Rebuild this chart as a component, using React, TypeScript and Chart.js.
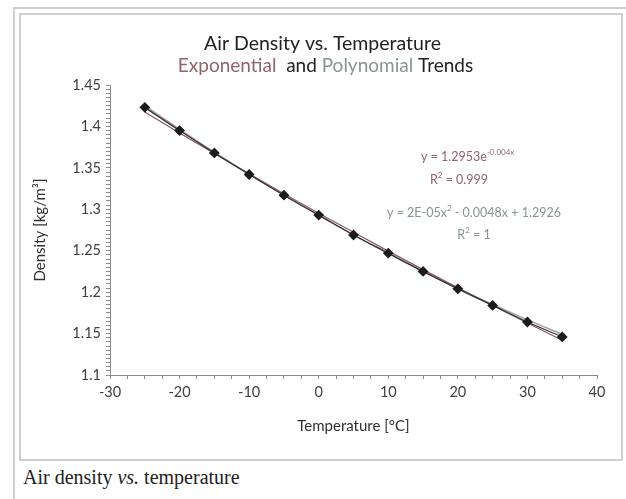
import React, { useEffect, useRef } from "react";
import { Chart, registerables } from "chart.js";

Chart.register(...registerables);

// ---- data ----
const temperatures = [-25, -20, -15, -10, -5, 0, 5, 10, 15, 20, 25, 30, 35];
const density = [1.423, 1.395, 1.368, 1.342, 1.317, 1.293, 1.269, 1.247, 1.225, 1.204, 1.184, 1.164, 1.146];
const expTrend = [1.4173, 1.392, 1.3672, 1.3428, 1.3188, 1.2953, 1.2722, 1.2495, 1.2272, 1.2053, 1.1838, 1.1627, 1.1419];
const polyTrend = [1.4251, 1.3966, 1.3691, 1.3426, 1.3171, 1.2926, 1.2691, 1.2466, 1.2251, 1.2046, 1.1851, 1.1666, 1.1491];
const xRange = [-30, 40];
const yRange = [1.1, 1.45];

const FONT = "Lato, 'Open Sans', sans-serif";
const EXP_COLOR = "#93636c";
const POLY_COLOR = "#879690";

type Run = { t: string; sup?: boolean; color?: string };

function drawRuns(ctx: CanvasRenderingContext2D, runs: Run[], x: number, y: number, size: number, align: "left" | "center", weight = "normal", defColor = "#333") {
  const supSize = Math.round(size * 0.62);
  let total = 0;
  const widths = runs.map((r) => {
    ctx.font = `${weight} ${r.sup ? supSize : size}px ${FONT}`;
    const w = ctx.measureText(r.t).width;
    total += w;
    return w;
  });
  let cx = align === "center" ? x - total / 2 : x;
  ctx.textBaseline = "middle";
  ctx.textAlign = "left";
  runs.forEach((r, i) => {
    ctx.font = `${weight} ${r.sup ? supSize : size}px ${FONT}`;
    ctx.fillStyle = r.color || defColor;
    ctx.fillText(r.t, cx, r.sup ? y - size * 0.4 : y);
    cx += widths[i];
  });
}

const annotPlugin = {
  id: "annot",
  afterDraw(chart: any) {
    const ctx: CanvasRenderingContext2D = chart.ctx;
    const ca = chart.chartArea;
    ctx.save();
    const midX = (ca.left + ca.right) / 2;
    drawRuns(ctx, [{ t: "Air Density vs. Temperature" }], midX - 31, ca.top - 41, 19.5, "center", "normal", "#222");
    drawRuns(
      ctx,
      [
        { t: "Exponential", color: EXP_COLOR },
        { t: "  and ", color: "#222" },
        { t: "Polynomial", color: POLY_COLOR },
        { t: " Trends", color: "#222" },
      ],
      midX - 28,
      ca.top - 19,
      19,
      "center"
    );
    drawRuns(ctx, [{ t: "y = 1.2953e" }, { t: "-0.004x", sup: true }], ca.left + 311, ca.top + 72, 12.5, "left", "normal", EXP_COLOR);
    drawRuns(ctx, [{ t: "R" }, { t: "2", sup: true }, { t: " = 0.999" }], ca.left + 349, ca.top + 95, 12.5, "center", "normal", EXP_COLOR);
    drawRuns(
      ctx,
      [{ t: "y = 2E-05x" }, { t: "2", sup: true }, { t: " - 0.0048x + 1.2926" }],
      ca.left + 277,
      ca.top + 128,
      12.5,
      "left",
      "normal",
      POLY_COLOR
    );
    drawRuns(ctx, [{ t: "R" }, { t: "2", sup: true }, { t: " = 1" }], ca.left + 364, ca.top + 150, 12.5, "center", "normal", POLY_COLOR);
    ctx.restore();
  },
};

export default function App() {
  const ref = useRef<HTMLCanvasElement>(null);
  useEffect(() => {
    if (!ref.current) return;
    const pts = (ys: number[]) => temperatures.map((x, i) => ({ x, y: ys[i] }));
    const chart = new Chart(ref.current, {
      type: "scatter",
      data: {
        datasets: [
          {
            label: "Exponential",
            data: pts(expTrend),
            showLine: true,
            borderColor: "#8a5662",
            borderWidth: 1.2,
            pointRadius: 0,
            cubicInterpolationMode: "monotone",
            order: 2,
          },
          {
            label: "Polynomial",
            data: pts(polyTrend),
            showLine: true,
            borderColor: "#9aa39e",
            borderWidth: 1.4,
            pointRadius: 0,
            cubicInterpolationMode: "monotone",
            order: 3,
          },
          {
            label: "Density",
            data: pts(density),
            showLine: true,
            borderColor: "#333",
            borderWidth: 1.3,
            pointStyle: "rectRot",
            pointRadius: 4.5,
            pointBackgroundColor: "#1c1c1c",
            pointBorderColor: "#1c1c1c",
            cubicInterpolationMode: "monotone",
            order: 1,
          },
        ],
      },
      options: {
        animation: false,
        responsive: false,
        maintainAspectRatio: false,
        events: [],
        layout: { padding: { top: 70, left: 6, right: 24, bottom: 20 } },
        plugins: { legend: { display: false }, tooltip: { enabled: false }, title: { display: false } },
        scales: {
          x: {
            type: "linear",
            min: xRange[0],
            max: xRange[1],
            afterFit: (s: any) => {
              s.height = 64;
            },
            afterBuildTicks: (s: any) => {
              const t = [];
              for (let v = xRange[0]; v <= xRange[1] + 1e-9; v += 2.5) t.push({ value: v });
              s.ticks = t;
            },
            ticks: {
              autoSkip: false,
              maxRotation: 0,
              padding: 5,
              color: "#404040",
              font: { family: FONT, size: 14.5 },
              callback: (v: any) => (Math.abs(Number(v) % 10) < 1e-9 ? String(Number(v)) : ""),
            },
            grid: { drawOnChartArea: false, drawTicks: true, tickLength: 4, color: "#8c8c8c" },
            border: { color: "#8c8c8c", width: 1 },
            title: {
              display: true,
              text: "Temperature [°C]",
              color: "#303030",
              font: { family: FONT, size: 15 },
              padding: { top: 4, bottom: 4 },
            },
          },
          y: {
            type: "linear",
            min: yRange[0],
            max: yRange[1],
            afterFit: (s: any) => {
              s.width = 83;
            },
            afterBuildTicks: (s: any) => {
              const t = [];
              for (let k = 0; k <= 70; k++) t.push({ value: Math.round((yRange[0] + k * 0.005) * 1000) / 1000 });
              s.ticks = t;
            },
            ticks: {
              autoSkip: false,
              padding: 5,
              color: "#404040",
              font: { family: FONT, size: 14.5 },
              callback: (v: any) => {
                const m = Math.round(Number(v) * 1000);
                return m % 50 === 0 ? String(Number((m / 1000).toFixed(2))) : "";
              },
            },
            grid: { drawOnChartArea: false, drawTicks: true, tickLength: 4, color: "#8c8c8c" },
            border: { color: "#8c8c8c", width: 1 },
            title: {
              display: true,
              text: "Density [kg/m³]",
              color: "#303030",
              font: { family: FONT, size: 15 },
              padding: { top: 4, bottom: 4 },
            },
          },
        },
      },
      plugins: [annotPlugin],
    });
    return () => chart.destroy();
  }, []);

  return (
    <div>
      <div
        style={{
          position: "absolute",
          left: 13,
          top: 7,
          width: 640,
          height: 520,
          borderTop: "2px solid #cfcfcf",
          borderLeft: "2px solid #cfcfcf",
          boxSizing: "border-box",
        }}
      />
      <div
        style={{
          position: "absolute",
          left: 19,
          top: 13,
          width: 604,
          height: 448,
          border: "2px solid #cfcfcf",
          boxSizing: "border-box",
          background: "#fff",
        }}
      >
        <canvas ref={ref} width={600} height={444} style={{ display: "block", width: 600, height: 444 }} />
      </div>
      <div
        style={{
          position: "absolute",
          left: 23,
          top: 466,
          fontFamily: "'Liberation Serif', 'Times New Roman', serif",
          fontSize: 20,
          color: "#202020",
          whiteSpace: "nowrap",
        }}
      >
        Air density <i>vs.</i> temperature
      </div>
    </div>
  );
}
